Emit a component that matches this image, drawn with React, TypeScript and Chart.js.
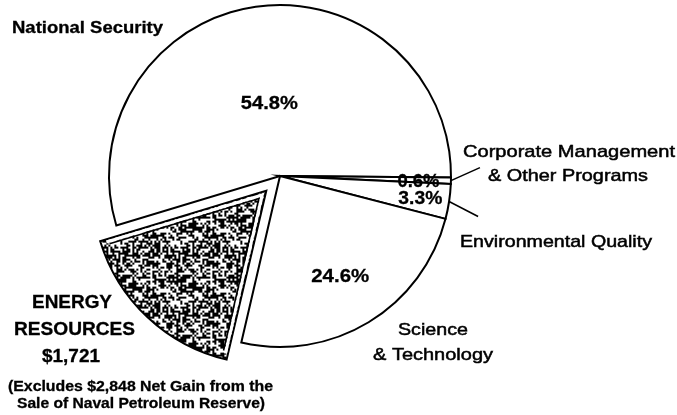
import React, { useEffect, useRef } from 'react';
import { Chart, registerables } from 'chart.js';

Chart.register(...registerables);

// ---- data ----
const categories = [
  'National Security',
  'Corporate Management & Other Programs',
  'Environmental Quality',
  'Science & Technology',
  'Energy Resources',
];
const shares = [54.8, 0.6, 3.3, 24.6, 16.7];
const shareLabels = ['54.8%', '0.6%', '3.3%', '24.6%', ''];
const energyAmount = '$1,721';
const energyNote = ['(Excludes $2,848 Net Gain from the', 'Sale of Naval Petroleum Reserve)'];

// ---- styles / layout ----
const FONT = '"Liberation Sans", Arial, Helvetica, sans-serif';
const ENERGY_OFFSET = 80; // chart.js translates arcs by offset/4
const pctStyle = [
  { frac: 0.44, w: 57 },
  { frac: 0.81, w: 42 },
  { frac: 0.83, w: 44 },
  { frac: 0.68, w: 58 },
  null,
];
const textItems = [
  { t: categories[0], x: 87.5, y: 33, w: 151, size: 16, bold: true },
  { t: 'Corporate Management', x: 569, y: 157, w: 212, size: 17, bold: false },
  { t: '& Other Programs', x: 568, y: 180.5, w: 160, size: 17, bold: false },
  { t: categories[2], x: 556, y: 247, w: 192, size: 17, bold: false },
  { t: 'Science', x: 433, y: 335, w: 70, size: 17, bold: false },
  { t: '& Technology', x: 433, y: 360, w: 120, size: 17, bold: false },
  { t: 'ENERGY', x: 72, y: 308, w: 80, size: 18, bold: true },
  { t: 'RESOURCES', x: 74.5, y: 335, w: 121, size: 18, bold: true },
  { t: energyAmount, x: 71, y: 361.5, w: 58, size: 18, bold: true },
  { t: energyNote[0], x: 140.5, y: 391, w: 265, size: 14, bold: true },
  { t: energyNote[1], x: 141, y: 408, w: 248, size: 14, bold: true },
];
// leader lines: slice index -> end delta from the arc's outer midpoint
const leaders = [
  { i: 1, dx: 29, dy: -13 },
  { i: 2, dx: 29, dy: 15 },
];

function drawScaledText(ctx: CanvasRenderingContext2D, t: string, x: number, y: number, w: number, size: number, bold: boolean) {
  ctx.save();
  ctx.font = `${bold ? 'bold ' : ''}${size}px ${FONT}`;
  ctx.textAlign = 'center';
  ctx.textBaseline = 'alphabetic';
  ctx.fillStyle = '#000';
  const m = ctx.measureText(t).width;
  ctx.translate(x, y);
  ctx.scale(w / m, 1);
  ctx.fillText(t, 0, 0);
  ctx.lineWidth = bold ? 0.3 : 0.5;
  ctx.strokeStyle = '#000';
  ctx.strokeText(t, 0, 0);
  ctx.restore();
}

function makeSpeckle(): CanvasPattern | string {
  const c = document.createElement('canvas');
  c.width = 60;
  c.height = 60;
  const g = c.getContext('2d');
  if (!g) return '#555';
  g.fillStyle = '#fff';
  g.fillRect(0, 0, 60, 60);
  g.fillStyle = '#000';
  for (let y = 0; y < 60; y += 2) {
    for (let x = 0; x < 60; x += 2) {
      let h = (x * 374761393 + y * 668265263) | 0;
      h = Math.imul(h ^ (h >>> 13), 1274126177);
      h = (h ^ (h >>> 16)) >>> 0;
      if (h % 100 < 55) g.fillRect(x, y, 2, 2);
    }
  }
  const p = g.createPattern(c, 'repeat');
  return p || '#555';
}

function insetEdges(ea: any, d: number) {
  const s = ea.startAngle, e = ea.endAngle;
  const h = (s + e) / 2;
  const tr = ENERGY_OFFSET / 4;
  const cx = ea.x + Math.cos(h) * tr;
  const cy = ea.y + Math.sin(h) * tr;
  const k = d / Math.sin((e - s) / 2);
  const ax = cx + Math.cos(h) * k;
  const ay = cy + Math.sin(h) * k;
  const R = ea.outerRadius - d;
  const endPt = (ang: number) => {
    const ex = Math.cos(ang), ey = Math.sin(ang);
    const vx = ax - cx, vy = ay - cy;
    const b = vx * ex + vy * ey;
    const t = -b + Math.sqrt(b * b - (vx * vx + vy * vy) + R * R);
    return [ax + ex * t, ay + ey * t];
  };
  return { p0: endPt(s), a: [ax, ay], p1: endPt(e) };
}

const overlayPlugin = {
  id: 'overlay',
  afterDatasetsDraw(chart: any) {
    const ctx: CanvasRenderingContext2D = chart.ctx;
    const arcs: any[] = chart.getDatasetMeta(0).data;

    // double border of the exploded energy slice (white gap + inner line)
    const ea = arcs[4];
    if (ea) {
      ctx.save();
      const gap = insetEdges(ea, 3);
      ctx.strokeStyle = '#fff';
      ctx.lineWidth = 3;
      ctx.lineJoin = 'miter';
      ctx.beginPath();
      ctx.moveTo(gap.p0[0], gap.p0[1]);
      ctx.lineTo(gap.a[0], gap.a[1]);
      ctx.lineTo(gap.p1[0], gap.p1[1]);
      ctx.stroke();
      const inner = insetEdges(ea, 5.5);
      ctx.strokeStyle = '#000';
      ctx.lineWidth = 1.6;
      ctx.beginPath();
      ctx.moveTo(inner.p0[0], inner.p0[1]);
      ctx.lineTo(inner.a[0], inner.a[1]);
      ctx.lineTo(inner.p1[0], inner.p1[1]);
      ctx.stroke();
      ctx.restore();
    }

    // leader lines
    ctx.save();
    ctx.strokeStyle = '#000';
    ctx.lineWidth = 1.5;
    leaders.forEach((l) => {
      const a = arcs[l.i];
      if (!a) return;
      const h = (a.startAngle + a.endAngle) / 2;
      const sx = a.x + Math.cos(h) * a.outerRadius;
      const sy = a.y + Math.sin(h) * a.outerRadius;
      ctx.beginPath();
      ctx.moveTo(sx, sy);
      ctx.lineTo(sx + l.dx, sy + l.dy);
      ctx.stroke();
    });
    ctx.restore();

    // percentage labels
    arcs.forEach((a, i) => {
      const st = pctStyle[i];
      if (!st || !shareLabels[i]) return;
      const h = (a.startAngle + a.endAngle) / 2;
      const r = a.outerRadius * st.frac;
      const x = a.x + Math.cos(h) * r;
      const y = a.y + Math.sin(h) * r;
      drawScaledText(ctx, shareLabels[i], x, y + 7, st.w, 19, true);
    });

    // outer labels
    textItems.forEach((it) => drawScaledText(ctx, it.t, it.x, it.y, it.w, it.size, it.bold));
  },
};

export default function App() {
  const ref = useRef<HTMLCanvasElement | null>(null);
  useEffect(() => {
    const canvas = ref.current;
    if (!canvas) return;
    const speckle = makeSpeckle();
    const chart = new Chart(canvas, {
      type: 'pie',
      data: {
        labels: categories,
        datasets: [
          {
            data: shares,
            backgroundColor: ['#ffffff', '#ffffff', '#ffffff', '#ffffff', speckle as any],
            borderColor: '#000000',
            borderWidth: 2,
            borderJoinStyle: 'miter',
            offset: [0, 0, 0, 0, ENERGY_OFFSET],
            rotation: -106.8,
            radius: 171,
          } as any,
        ],
      },
      options: {
        responsive: false,
        maintainAspectRatio: false,
        devicePixelRatio: 1,
        animation: false,
        layout: { padding: { left: 0, right: 117, top: 0, bottom: 63 } },
        plugins: {
          legend: { display: false },
          tooltip: { enabled: false },
          title: { display: false },
        },
      },
      plugins: [overlayPlugin],
    });
    return () => chart.destroy();
  }, []);
  return (
    <div style={{ position: 'absolute', left: 0, top: 0, width: 677, height: 415, background: '#fff' }}>
      <canvas ref={ref} width={677} height={415} style={{ display: 'block' }} />
    </div>
  );
}
